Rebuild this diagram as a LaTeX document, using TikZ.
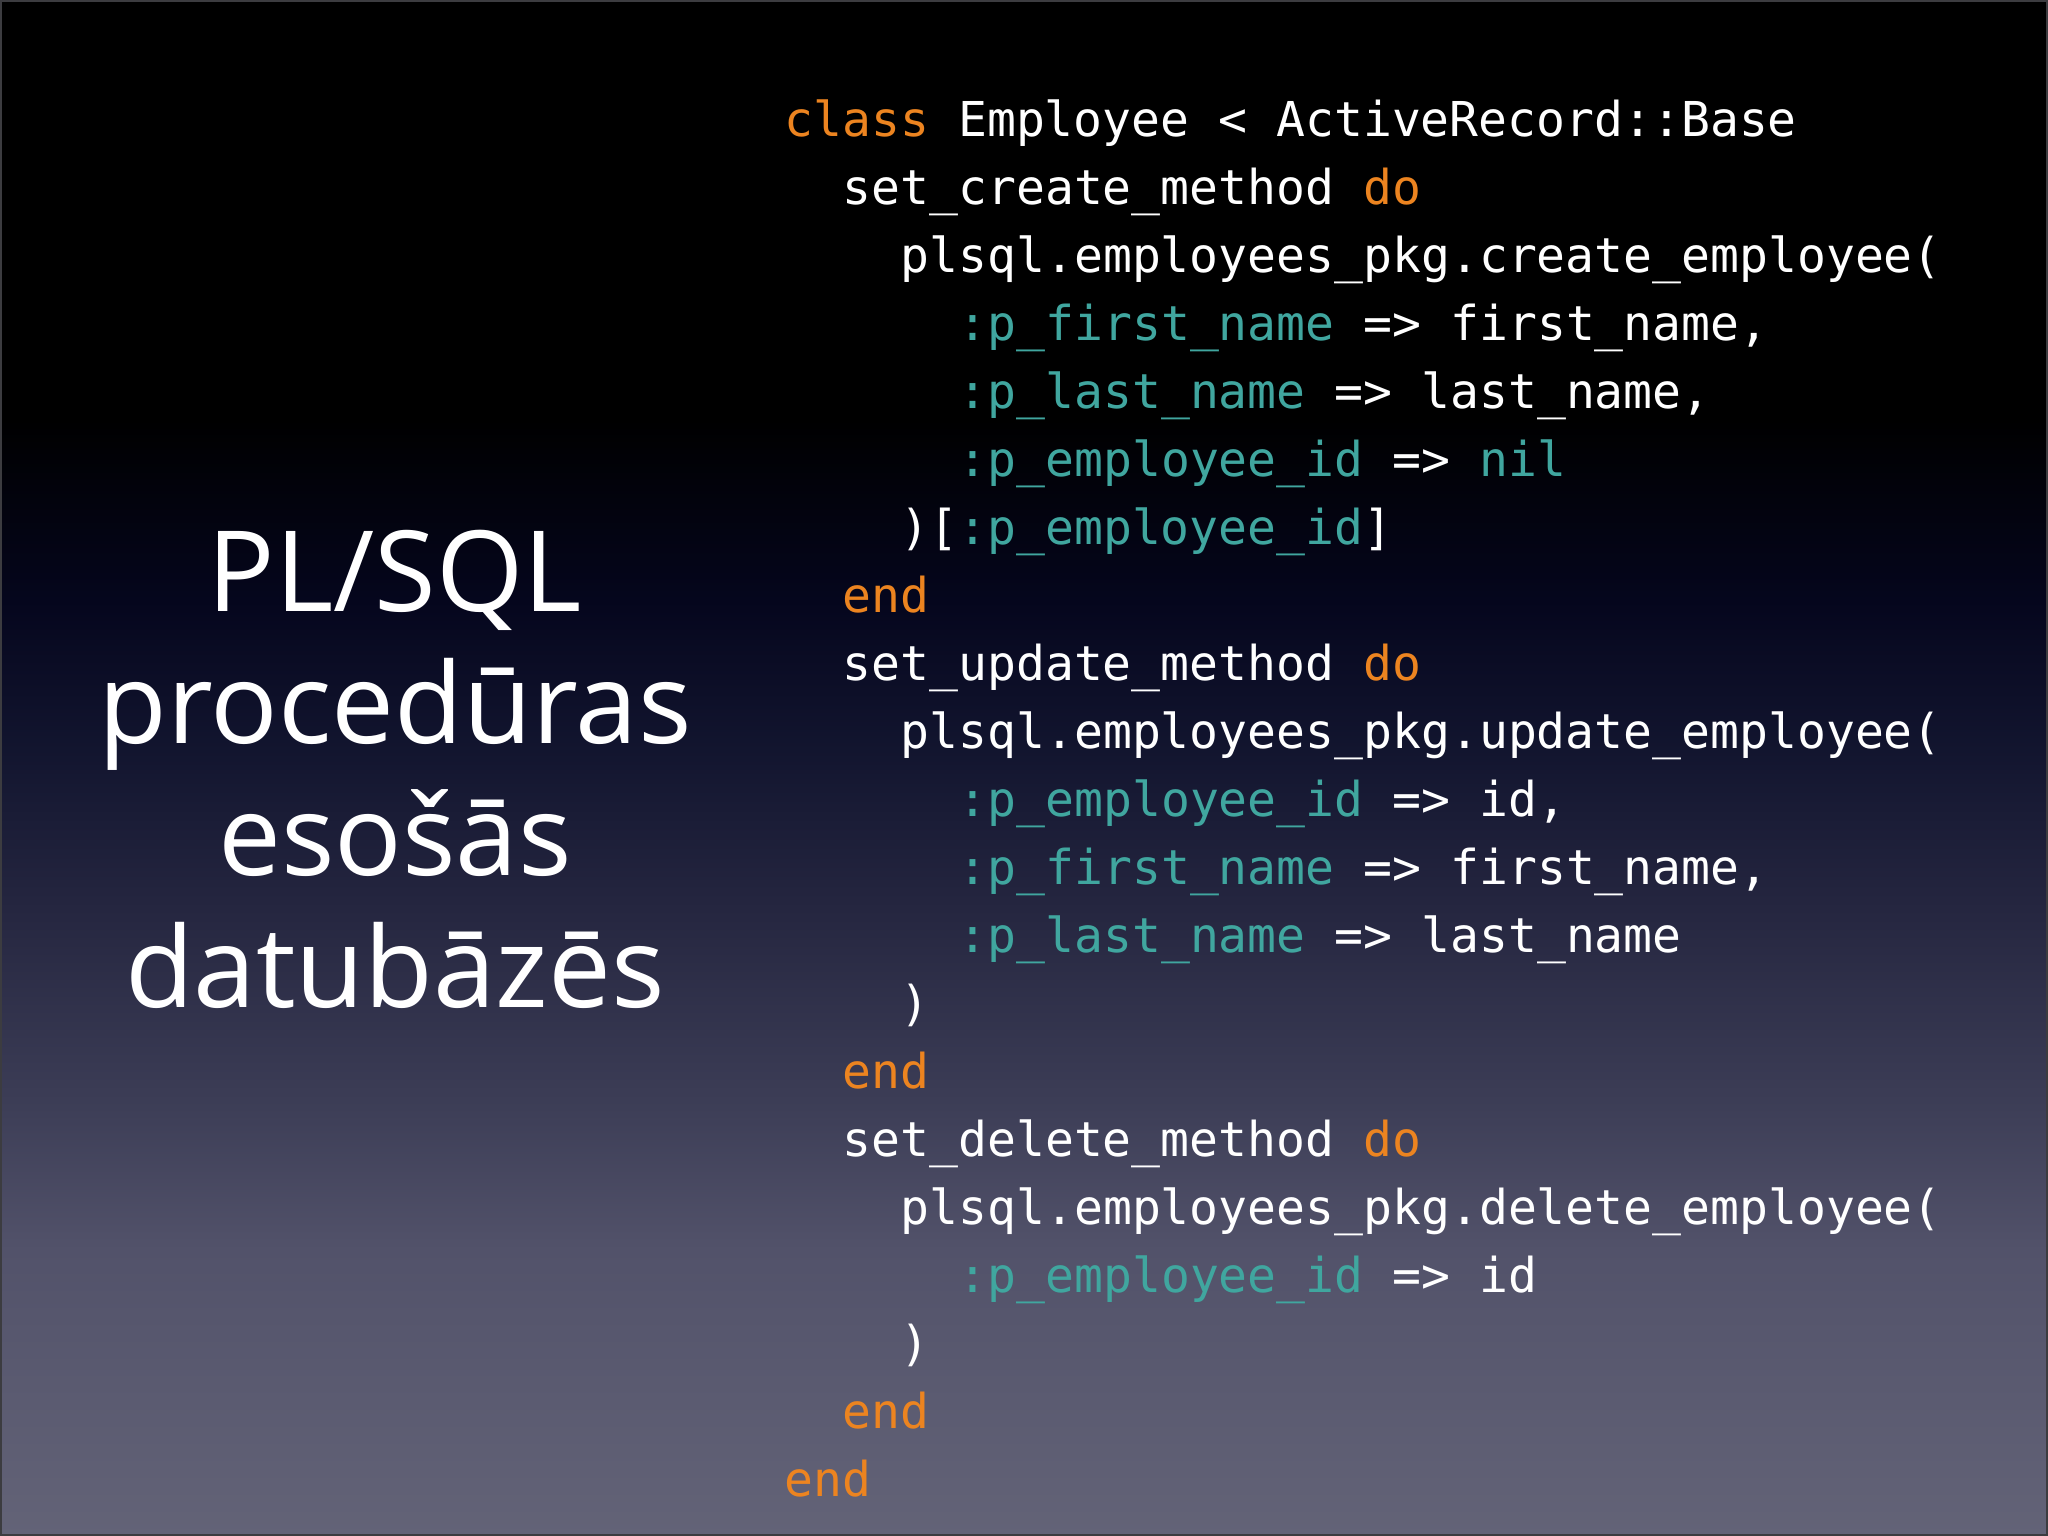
\documentclass[tikz,border=0pt]{standalone}
\usepackage{fontspec}
\setmainfont{Open Sans}
\newfontfamily\codefont{DejaVu Sans Mono}
\definecolor{kworange}{HTML}{EC8420}
\definecolor{symteal}{HTML}{40A69F}
\definecolor{edgegray}{HTML}{3C3C40}
\pgfdeclareverticalshading{slidebg}{100bp}{rgb(0bp)=(0.388,0.388,0.467);
  rgb(25bp)=(0.388,0.388,0.467);
  rgb(34.3bp)=(0.322,0.322,0.416);
  rgb(39.2bp)=(0.235,0.239,0.337);
  rgb(45.7bp)=(0.141,0.145,0.247);
  rgb(50.6bp)=(0.071,0.082,0.184);
  rgb(55.45bp)=(0.020,0.024,0.114);
  rgb(61.35bp)=(0,0,0); rgb(100bp)=(0,0,0)}
\newcommand{\kw}[1]{\textcolor{kworange}{#1}}
\newcommand{\sym}[1]{\textcolor{symteal}{#1}}

\begin{document}
\begin{tikzpicture}[x=0.01cm, y=-0.01cm,
    title/.style={anchor=base, text=white, inner sep=0pt, font=\fontsize{31.9}{37.5}\selectfont},
    code/.style={anchor=base west, text=white, inner sep=0pt, font=\codefont\fontsize{13.66}{19.35}\selectfont}]
            \useasboundingbox (0,0) rectangle (2048,1536);
            \shade [shading=slidebg] (0,0) rectangle (2048,1536);
            \draw [edgegray, line width=0.6pt] (1,1) rectangle (2047,1535);
            \node [title] (t1) at (395,611) {PL/SQL};
            \node [title] (t2) at (395,743) {procedūras};
            \node [title] (t3) at (395,875) {esošās};
            \node [title] (t4) at (395,1007) {datubāzēs};
            \node [code] (c1) at (784,136) {\kw{class} Employee < ActiveRecord::Base};
            \node [code] (c2) at (842,204) {set\_create\_method \kw{do}};
            \node [code] (c3) at (900,272) {plsql.employees\_pkg.create\_employee(};
            \node [code] (c4) at (958,340) {\sym{:p\_first\_name} => first\_name,};
            \node [code] (c5) at (958,408) {\sym{:p\_last\_name} => last\_name,};
            \node [code] (c6) at (958,476) {\sym{:p\_employee\_id} => \sym{nil}};
            \node [code] (c7) at (900,544) {)[\sym{:p\_employee\_id}]};
            \node [code] (c8) at (842,612) {\kw{end}};
            \node [code] (c9) at (842,680) {set\_update\_method \kw{do}};
            \node [code] (c10) at (900,748) {plsql.employees\_pkg.update\_employee(};
            \node [code] (c11) at (958,816) {\sym{:p\_employee\_id} => id,};
            \node [code] (c12) at (958,884) {\sym{:p\_first\_name} => first\_name,};
            \node [code] (c13) at (958,952) {\sym{:p\_last\_name} => last\_name};
            \node [code] (c14) at (900,1020) {)};
            \node [code] (c15) at (842,1088) {\kw{end}};
            \node [code] (c16) at (842,1156) {set\_delete\_method \kw{do}};
            \node [code] (c17) at (900,1224) {plsql.employees\_pkg.delete\_employee(};
            \node [code] (c18) at (958,1292) {\sym{:p\_employee\_id} => id};
            \node [code] (c19) at (900,1360) {)};
            \node [code] (c20) at (842,1428) {\kw{end}};
            \node [code] (c21) at (784,1496) {\kw{end}};
        \end{tikzpicture}
\end{document}
